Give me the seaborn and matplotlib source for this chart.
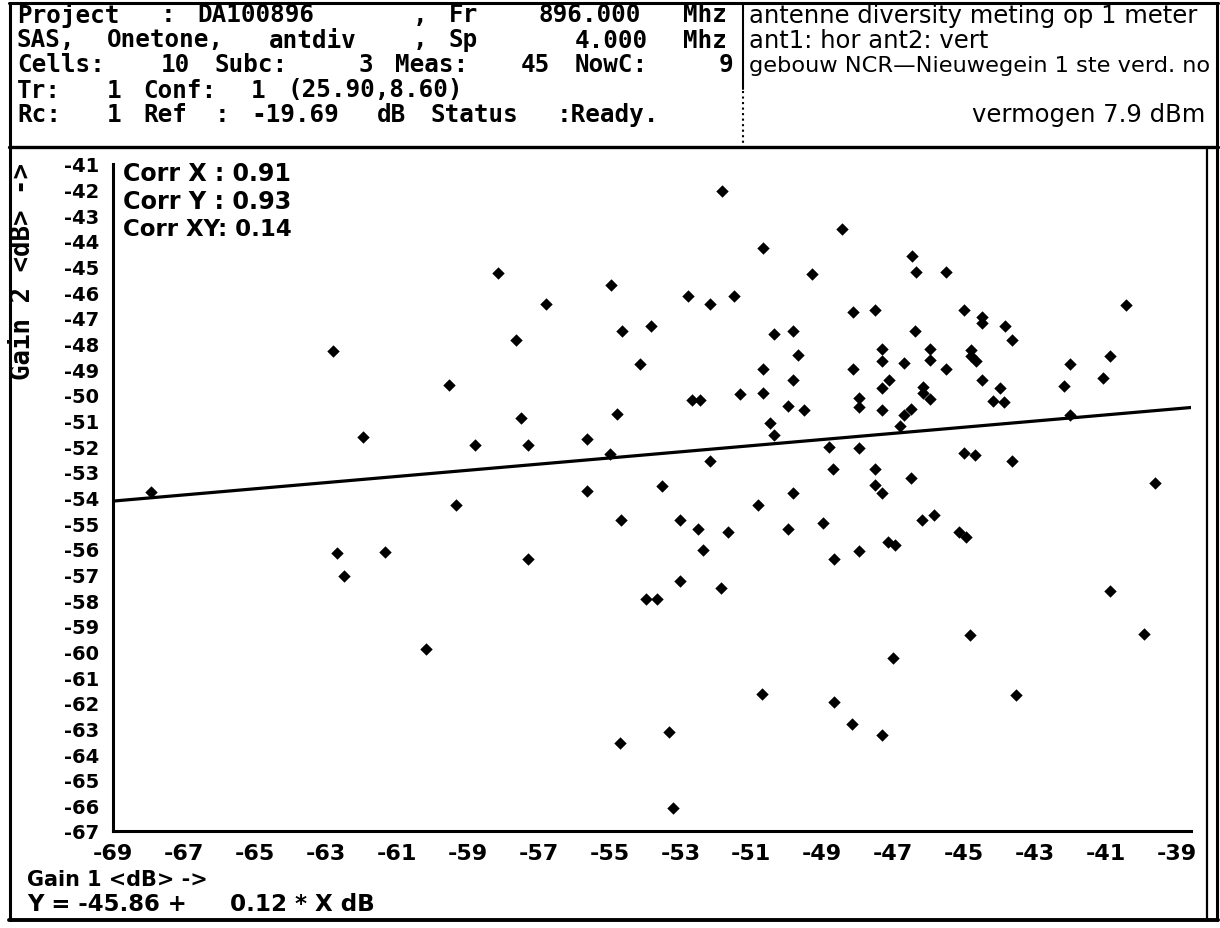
import re
import numpy as np
import matplotlib
matplotlib.use("Agg")
import matplotlib.pyplot as plt
import seaborn as sns
from matplotlib.lines import Line2D

# gain of antenna 1 (x) and antenna 2 (y), dB
gain1 = [
    -67.92, -62.81, -61.96, -62.68, -62.48, -61.32, -60.16,
    -51.82, -50.66, -58.14, -54.97, -56.79, -52.79, -52.16, -51.50, -57.63, -54.66,
    -53.83, -54.15, -50.35, -49.83, -49.68, -50.68, -49.83, -59.52, -57.50, -54.78,
    -52.66, -52.45, -51.33, -50.68, -49.96, -50.48, -50.35, -58.80, -57.29, -55.63,
    -54.99, -52.17, -59.32, -55.63, -53.51, -49.83, -50.81, -54.67, -53.01, -52.49, -51.66, -49.96,
    -52.37, -57.30, -53.01, -51.85, -53.97, -53.65, -50.69, -53.33, -54.69, -53.21,
    -48.45, -46.47, -46.36, -45.50, -49.30, -48.14, -47.50, -44.99, -44.50, -44.50,
    -43.85, -43.65, -40.44, -46.37, -47.31, -47.31, -45.95, -45.95, -46.69, -44.81,
    -44.79, -44.67, -48.14, -45.52, -47.13, -47.32, -44.50, -46.17, -46.17, -45.96,
    -44.00, -44.18, -43.86, -47.97, -47.97, -49.51, -47.32, -46.49, -46.69, -46.81,
    -42.19, -42.01, -41.08, -40.88, -42.01, -48.80, -47.96, -45.00, -44.68, -43.65,
    -48.69, -47.51, -46.49, -47.51, -47.32, -39.62, -46.18, -45.86, -48.99,
    -48.68, -47.97, -47.15, -46.95, -45.15, -44.95, -40.89, -44.83, -39.93, -47.00,
    -43.54, -48.68, -48.17, -47.32,
]
gain2 = [
    -53.79, -48.29, -51.66, -56.18, -57.07, -56.11, -59.91,
    -42.04, -44.27, -45.24, -45.73, -46.47, -46.16, -46.47, -46.15, -47.86, -47.52,
    -47.30, -48.78, -47.63, -47.52, -48.45, -48.98, -49.41, -49.63, -50.90, -50.76,
    -50.20, -50.20, -49.95, -49.94, -50.45, -51.08, -51.57, -51.94, -51.94, -51.73,
    -52.30, -52.57, -54.28, -53.75, -53.54, -53.83, -54.28, -54.88, -54.88, -55.23, -55.33, -55.23,
    -56.06, -56.40, -57.24, -57.54, -57.97, -57.97, -61.67, -63.13, -63.57, -66.09,
    -43.52, -44.57, -45.21, -45.22, -45.30, -46.78, -46.68, -46.69, -46.98, -47.21,
    -47.30, -47.86, -46.48, -47.52, -48.23, -48.67, -48.20, -48.65, -48.77, -48.25,
    -48.47, -48.67, -48.99, -48.99, -49.41, -49.75, -49.41, -49.68, -49.94, -50.16,
    -49.72, -50.25, -50.27, -50.14, -50.49, -50.58, -50.58, -50.55, -50.79, -51.20,
    -49.66, -48.81, -49.33, -48.49, -50.77, -52.05, -52.07, -52.28, -52.35, -52.57,
    -52.89, -52.89, -53.23, -53.51, -53.83, -53.44, -54.88, -54.70, -55.00,
    -56.40, -56.08, -55.75, -55.85, -55.35, -55.55, -57.65, -59.35, -59.34, -60.27,
    -61.69, -61.99, -62.83, -63.25,
]

fit_intercept = -45.86
fit_slope = 0.12
corr_names = ["Corr X :", "Corr Y :", "Corr XY:"]
corr_values = [0.91, 0.93, 0.14]

x_ticks = list(range(-69, -38, 2))
y_ticks = list(range(-67, -40))

header_left = [
    "Project : DA100896    , Fr   896.000 Mhz",
    "SAS, Onetone, antdiv  , Sp     4.000 Mhz",
    "Cells:  10 Subc:   3 Meas:  45 NowC:   9",
    "Tr:  1 Conf: 1 (25.90,8.60)",
    "Rc:  1 Ref : -19.69 dB Status :Ready.",
]
header_right = [
    "antenne diversity meting op 1 meter",
    "ant1: hor ant2: vert",
    "gebouw NCR\u2014Nieuwegein 1 ste verd. no",
]
power_note = "vermogen 7.9 dBm"

W, H = 1220, 929
sns.set_style("white")
plt.rcParams["font.family"] = ["DejaVu Sans"]
plt.rcParams.update({"text.color": "black", "xtick.color": "black", "ytick.color": "black"})

fig = plt.figure(figsize=(W / 100, H / 100), dpi=100)
fig.patch.set_facecolor("white")


def fx(px):
    return px / W


def fy(py):
    return 1 - py / H


def hline(x0, x1, y, lw=2.0, ls="-"):
    fig.add_artist(Line2D([fx(x0), fx(x1)], [fy(y), fy(y)], transform=fig.transFigure,
                          color="black", lw=lw, ls=ls))


def vline(x, y0, y1, lw=2.0, ls="-"):
    fig.add_artist(Line2D([fx(x), fx(x)], [fy(y0), fy(y1)], transform=fig.transFigure,
                          color="black", lw=lw, ls=ls))


renderer = fig.canvas.get_renderer()


def fit(t, target, along="w"):
    bb = t.get_window_extent(renderer)
    size = bb.width if along == "w" else bb.height
    t.set_fontsize(t.get_fontsize() * target / size)


# ---- scatter panel
ax = fig.add_axes([fx(113), fy(832), fx(1191) - fx(113), fy(165) - fy(832)])
ax.set_xlim(-69, -38.6)
ax.set_ylim(-67, -41)
sns.scatterplot(x=gain1, y=gain2, marker="D", s=40, color="black", linewidth=0,
                legend=False, ax=ax, zorder=3)
xs = np.array(ax.get_xlim())
sns.lineplot(x=xs, y=fit_intercept + fit_slope * xs, color="black", lw=2.3, ax=ax)

sns.despine(ax=ax)
for side in ["left", "bottom"]:
    ax.spines[side].set_linewidth(2.2)
    ax.spines[side].set_color("black")
ax.set_xticks(x_ticks)
ax.set_xticks(range(-69, -38), minor=True)
ax.set_yticks(y_ticks)
ax.set_xticklabels([str(v) for v in x_ticks], fontsize=16, fontweight="bold")
ax.set_yticklabels([str(v) for v in y_ticks], fontsize=14, fontweight="bold")
ax.tick_params(axis="both", which="both", direction="out", color="black", width=1.5)
ax.tick_params(axis="y", length=3, pad=7)
ax.tick_params(axis="x", which="both", length=3.5, pad=5)
ax.set_xlabel("")
ax.set_ylabel("")
ax.set_facecolor("white")

for name, val, yy in zip(corr_names, corr_values, [174, 202, 229]):
    t = fig.text(fx(123), fy(yy), f"{name} {val:.2f}", fontsize=15, fontweight="bold",
                 va="center", ha="left")
    fit(t, 169)

t = fig.text(fx(23), fy(272), "Gain 2 <dB> ->", rotation=90, family="DejaVu Sans Mono",
             fontweight="bold", fontsize=16, va="center", ha="center")
fit(t, 217, along="h")

t = fig.text(fx(27), fy(880), "Gain 1 <dB> ->", fontsize=15, fontweight="bold",
             va="center", ha="left")
fit(t, 181)
t = fig.text(fx(27), fy(905), f"Y = {fit_intercept:.2f} +", fontsize=15, fontweight="bold",
             va="center", ha="left")
fit(t, 160)
t = fig.text(fx(230), fy(905), f"{fit_slope:.2f} * X dB", fontsize=15, fontweight="bold",
             va="center", ha="left")
fit(t, 145)

# ---- header, printed in a fixed pitch of 18 px per character
pitch, x0 = 18, 17
baselines = [22.5, 47.5, 72.5, 97.5, 122.5]
for line, base in zip(header_left, baselines):
    for m in re.finditer(r"\S+", line):
        fig.text(fx(x0 + m.start() * pitch), fy(base), m.group(), family="DejaVu Sans Mono",
                 fontweight="bold", fontsize=17.5, va="baseline", ha="left")

t = fig.text(fx(749), fy(baselines[0]), header_right[0], fontsize=15, va="baseline", ha="left")
fit(t, 448)
rsize = t.get_fontsize()
t = fig.text(fx(749), fy(baselines[1]), header_right[1], fontsize=rsize, va="baseline", ha="left")
t = fig.text(fx(749), fy(baselines[2]), header_right[2], fontsize=rsize, va="baseline", ha="left")
fit(t, 462)
fig.text(fx(1205), fy(baselines[4]), power_note, fontsize=rsize, va="baseline", ha="right")

# ---- frames
hline(9, 1218, 4, lw=2.2)
hline(9, 1218, 148, lw=2.4)
hline(9, 1218, 921, lw=2.8)
vline(10, 4, 921, lw=2.2)
vline(1217, 4, 921, lw=2.2)
vline(1207, 148, 921, lw=1.6)
vline(743, 4, 90, lw=1.5)
vline(743, 92, 148, lw=1.5, ls=":")

fig.savefig("out.png", dpi=100, facecolor="white")
